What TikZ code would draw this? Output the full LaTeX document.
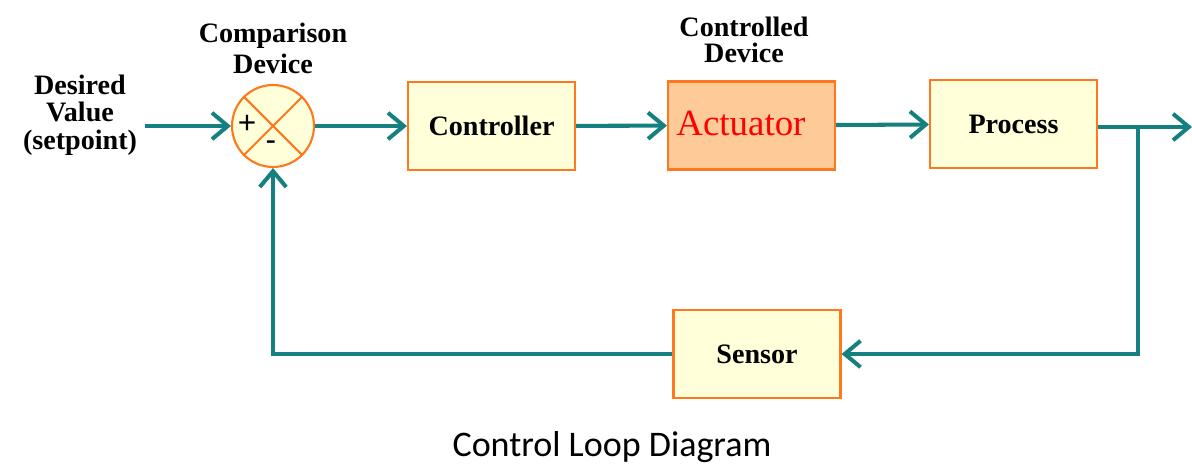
\documentclass[tikz,border=0pt]{standalone}
\usepackage{fontspec}
\setmainfont{Liberation Serif}
\newfontfamily\labelfont{Liberation Serif}
\newfontfamily\signfont{Liberation Sans}
\newfontfamily\titlefont{Carlito}
\usetikzlibrary{arrows.meta,positioning}

\definecolor{loopteal}{RGB}{20,128,128}
\definecolor{boxline}{RGB}{255,120,30}
\definecolor{boxfill}{RGB}{255,255,217}
\definecolor{actfill}{RGB}{253,202,152}

\tikzset{
    block/.style={draw=boxline, fill=boxfill, line width=1.2pt,
        minimum width=3.34cm, minimum height=1.76cm, inner sep=0pt,
        font=\labelfont\fontsize{16}{18}\selectfont\bfseries},
    link/.style={loopteal, line width=2.3pt},
    signal/.style={link, -{Straight Barb[length=9pt,width=15pt,line width=2.3pt]}},
    caption/.style={align=center, font=\labelfont\fontsize{16}{17.6}\selectfont\bfseries}
}

\begin{document}
\begin{tikzpicture}[x=0.02cm,y=-0.02cm]
    \useasboundingbox (0,0) rectangle (1192,465);

    % Comparison device
    \node [circle, draw=boxline, fill=boxfill, line width=1.2pt,
        minimum size=1.64cm, inner sep=0pt] (cmp) at (273,126) {};
    \draw [boxline, line width=1.2pt] (cmp.north west) -- (cmp.south east);
    \draw [boxline, line width=1.2pt] (cmp.north east) -- (cmp.south west);
    \node [font=\signfont\fontsize{18}{18}\selectfont] (plus) at (247,124) {+};
    \node [font=\signfont\fontsize{18}{18}\selectfont] (minus) at (271,146) {-};

    % Blocks
    \node [block] (ctrl) at (491.5,126) {Controller};
    \node [block, fill=actfill, text=red,
        font=\labelfont\fontsize{21}{24}\selectfont] (act) at (751.5,125.5)
        {\hspace*{-12pt}\raisebox{0.1cm}{Actuator}};
    \node [block] (proc) at (1013.5,124) {Process};
    \node [block] (sens) at (757,354) {Sensor};

    % Labels
    \node [caption, font=\labelfont\fontsize{16}{15.6}\selectfont\bfseries] (want)
        at (80,115) {Desired\\Value\\(setpoint)};
    \node [caption] (cmptext) at (273,48) {Comparison\\Device};
    \node [caption, font=\labelfont\fontsize{16}{14.7}\selectfont\bfseries] (acttext)
        at (744,40) {Controlled\\Device};

    % Forward path
    \coordinate (in) at (145,126);
    \coordinate (out) at (1192,127);
    \coordinate (branch) at (1138,127);
    \draw [signal] (in) -- (cmp);
    \draw [signal] (cmp) -- (ctrl);
    \draw [signal] (ctrl) -- (act);
    \draw [signal] (act) -- (proc);
    \draw [signal] (proc.east |- out) -- (out);

    % Feedback path
    \draw [signal] (branch) |- (sens);
    \draw [signal] (sens) -| (cmp);

    % Title
    \node [font=\titlefont\fontsize{20.5}{24}\selectfont] (title) at (612,447)
        {Control Loop Diagram};
\end{tikzpicture}
\end{document}
